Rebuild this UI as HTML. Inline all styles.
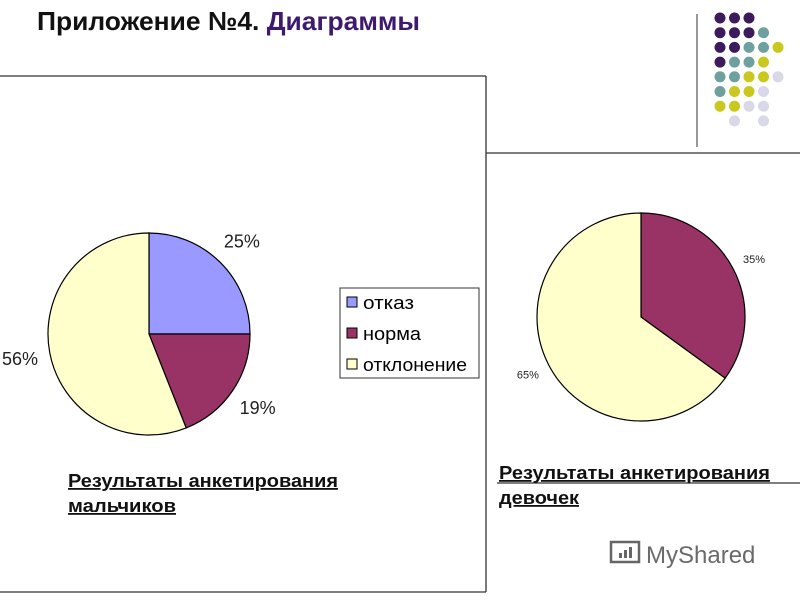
<!DOCTYPE html>
<html><head><meta charset="utf-8"><style>
body{margin:0;width:800px;height:600px;background:#fff;overflow:hidden;font-family:"Liberation Sans","DejaVu Sans",sans-serif}
svg{display:block}
</style></head><body>
<svg width="800" height="600" font-family="Liberation Sans, DejaVu Sans, sans-serif">
<text x="37" y="30" font-size="26" font-weight="bold" fill="#111" textLength="383" lengthAdjust="spacingAndGlyphs">Приложение №4. <tspan fill="#3d1a6e">Диаграммы</tspan></text>
<line x1="697" y1="14" x2="697" y2="147" stroke="#777" stroke-width="1.5"/>
<g id="dots"></g>
<line x1="0" y1="76" x2="486" y2="76" stroke="#333" stroke-width="1.3"/>
<line x1="486" y1="76" x2="486" y2="592" stroke="#333" stroke-width="1.3"/>
<line x1="0" y1="592" x2="486" y2="592" stroke="#333" stroke-width="1.3"/>
<line x1="486" y1="153" x2="800" y2="153" stroke="#333" stroke-width="1.3"/>
<line x1="497" y1="483" x2="800" y2="483" stroke="#333" stroke-width="1.3"/>
<g id="pie1"></g>
<g id="pie2"></g>
<g>
<rect x="340" y="288" width="139" height="90" fill="#fff" stroke="#333" stroke-width="1"/>
<g><rect x="347" y="297" width="10" height="10" fill="#9999ff" stroke="#000"/><text x="363" y="309" font-size="18" textLength="51" lengthAdjust="spacingAndGlyphs">отказ</text></g>
<g><rect x="347" y="328" width="10" height="10" fill="#993366" stroke="#000"/><text x="363" y="340" font-size="18" textLength="58" lengthAdjust="spacingAndGlyphs">норма</text></g>
<g><rect x="347" y="359" width="10" height="10" fill="#ffffcc" stroke="#000"/><text x="363" y="371" font-size="18" textLength="104" lengthAdjust="spacingAndGlyphs">отклонение</text></g>
</g>
<g font-size="18" font-weight="bold" text-decoration="underline" fill="#111">
<text x="68" y="487" textLength="270" lengthAdjust="spacingAndGlyphs">Результаты анкетирования</text>
<text x="68" y="512" textLength="108" lengthAdjust="spacingAndGlyphs">мальчиков</text>
<text x="499" y="479" textLength="271" lengthAdjust="spacingAndGlyphs">Результаты анкетирования</text>
<text x="499" y="504" textLength="80" lengthAdjust="spacingAndGlyphs">девочек</text>
</g>
<g fill="#666">
<rect x="611" y="542" width="28" height="20" fill="none" stroke="#666" stroke-width="2.5"/>
<rect x="619" y="553" width="3" height="5"/><rect x="624" y="550" width="3" height="8"/><rect x="629" y="547" width="3" height="11"/>
<text x="646" y="563" font-size="24" fill="#6a6a6a">MyShared</text>
</g>
</svg>
<script>
const boysCategories=["отказ","норма","отклонение"];
const boysValues=[25,19,56];
const girlsCategories=["норма","отклонение"];
const girlsValues=[35,65];
const boysColors=["#9999ff","#993366","#ffffcc"];
const girlsColors=["#993366","#ffffcc"];
const NS="http://www.w3.org/2000/svg";
function pie(g,vals,colors,cx,cy,r,labelPos,fs){
  const tot=vals.reduce((a,b)=>a+b,0);let a0=0;
  vals.forEach((v,i)=>{
    const a1=a0+v/tot*2*Math.PI;
    const x0=cx+r*Math.sin(a0),y0=cy-r*Math.cos(a0),x1=cx+r*Math.sin(a1),y1=cy-r*Math.cos(a1);
    const p=document.createElementNS(NS,"path");
    p.setAttribute("d",`M${cx},${cy}L${x0},${y0}A${r},${r} 0 ${a1-a0>Math.PI?1:0} 1 ${x1},${y1}Z`);
    p.setAttribute("fill",colors[i]);p.setAttribute("stroke","#000");p.setAttribute("stroke-width","1.2");
    
    
    g.appendChild(p);
    const am=(a0+a1)/2,lr=r*labelPos;
    const t=document.createElementNS(NS,"text");
    t.setAttribute("x",cx+lr*Math.sin(am));t.setAttribute("y",cy-lr*Math.cos(am)+fs*0.35);
    t.setAttribute("text-anchor","middle");t.setAttribute("font-size",fs);t.setAttribute("fill","#222");
    t.textContent=v+"%";
    
    
    g.appendChild(t);
    a0=a1;
  });
}
pie(document.getElementById("pie1"),boysValues,boysColors,149,334,101,1.3,18);
pie(document.getElementById("pie2"),girlsValues,girlsColors,641,317,104,1.22,11);
const dotRows=["PPP","PPPT","PPTTY","PTTY","TTYYL","TYYL","YYLL"," L L"];
const dotColors={P:"#3d1a5c",T:"#6fa0a0",Y:"#c8c81e",L:"#d8d8e8"};
const dg=document.getElementById("dots");
dotRows.forEach((row,j)=>{[...row].forEach((c,i)=>{
  if(c===" ")return;
  const d=document.createElementNS(NS,"circle");
  d.setAttribute("cx",720+i*14.5);d.setAttribute("cy",18+j*14.7);d.setAttribute("r",5.5);d.setAttribute("fill",dotColors[c]);
  
  
  dg.appendChild(d);
});});
</script>
</body></html>
